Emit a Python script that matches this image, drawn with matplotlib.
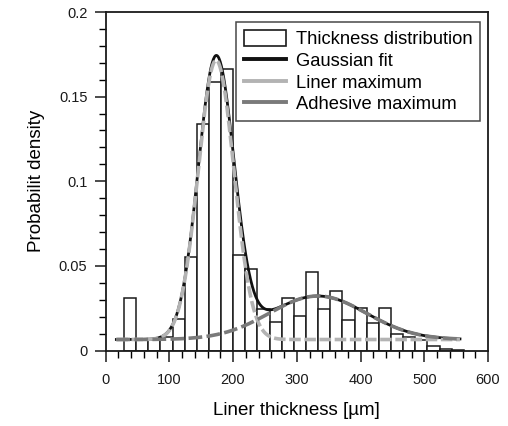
import numpy as np
import matplotlib
matplotlib.use("Agg")
import matplotlib.pyplot as plt
from matplotlib.patches import Patch
from matplotlib.lines import Line2D

plt.rcParams['font.family'] = ['Liberation Sans', 'DejaVu Sans']

# histogram: 28 bins from 29 to 562 µm
bin_start = 29.0
bin_end = 562.0
n_bins = 28
heights = [0.0312, 0.0065, 0.0065, 0.0082, 0.0185, 0.0551, 0.134, 0.1587,
           0.1666, 0.0565, 0.0484, 0.0244, 0.0170, 0.0309, 0.0206, 0.0466,
           0.0246, 0.0352, 0.0180, 0.0253, 0.0161, 0.0250, 0.0098, 0.0077,
           0.0060, 0.0029, 0.0009, 0.0005]

# fit parameters
y0 = 0.0065
liner_amp, liner_center, liner_sigma = 0.165, 173.5, 28.0
adh_amp, adh_center, adh_sigma = 0.0257, 333.0, 76.0
x_start, x_end = 17.0, 556.0

edges = np.linspace(bin_start, bin_end, n_bins + 1)
widths = np.diff(edges)

x = np.linspace(x_start, x_end, 600)
liner = y0 + liner_amp * np.exp(-(x - liner_center) ** 2 / (2 * liner_sigma ** 2))
adh = y0 + adh_amp * np.exp(-(x - adh_center) ** 2 / (2 * adh_sigma ** 2))
total = liner + adh - y0

fig = plt.figure(figsize=(5.08, 4.26), dpi=100)
ax = fig.add_axes([0.2077, 0.1772, 0.753, 0.7946])

ax.bar(edges[:-1], heights, width=widths, align='edge', facecolor='white',
       edgecolor='#1a1a1a', linewidth=1.1, zorder=2)

ax.plot(x, total, color='#111111', lw=2.0, zorder=3)
ax.plot(x, liner, color='#b3b3b3', lw=2.6, dashes=(3.2, 1.0), zorder=4)
ax.plot(x, adh, color='#7a7a7a', lw=2.6, dashes=(3.8, 1.2), zorder=4)

ax.set_xlim(0, 600)
ax.set_ylim(0, 0.2)
ax.set_xticks(np.arange(0, 601, 100))
ax.set_xticks(np.arange(0, 601, 20), minor=True)
ax.set_yticks([0, 0.05, 0.1, 0.15, 0.2])
ax.set_yticklabels(['0', '0.05', '0.1', '0.15', '0.2'])
ax.set_yticks(np.arange(0, 0.2001, 0.01), minor=True)
ax.tick_params(axis='both', which='major', direction='out', length=8, width=1.1,
               labelsize=10.5, colors='#1a1a1a')
ax.tick_params(axis='x', which='major', pad=8)
ax.tick_params(axis='y', which='major', pad=5)
ax.tick_params(axis='both', which='minor', direction='out', length=5, width=1.0)
ax.tick_params(top=False, right=False, which='both')
for s in ax.spines.values():
    s.set_linewidth(1.3)
    s.set_color('#1a1a1a')

ax.set_xlabel('Liner thickness [µm]', fontsize=13.5, labelpad=11)
ax.set_ylabel('Probabilit density', fontsize=13.5, labelpad=10)

handles = [Patch(facecolor='white', edgecolor='#1a1a1a', linewidth=1.2),
           Line2D([], [], color='#111111', lw=2.8),
           Line2D([], [], color='#b3b3b3', lw=2.8),
           Line2D([], [], color='#7a7a7a', lw=2.8)]
labels = ['Thickness distribution', 'Gaussian fit', 'Liner maximum', 'Adhesive maximum']
leg = ax.legend(handles, labels, loc='upper right', bbox_to_anchor=(0.98, 0.97),
                fontsize=13.2, frameon=True, fancybox=False, edgecolor='#1a1a1a',
                handlelength=2.3, handleheight=0.9, handletextpad=0.5, labelspacing=0.2,
                borderpad=0.45, borderaxespad=0.0)
leg.get_frame().set_linewidth(1.1)

fig.savefig('out.png', dpi=100)
